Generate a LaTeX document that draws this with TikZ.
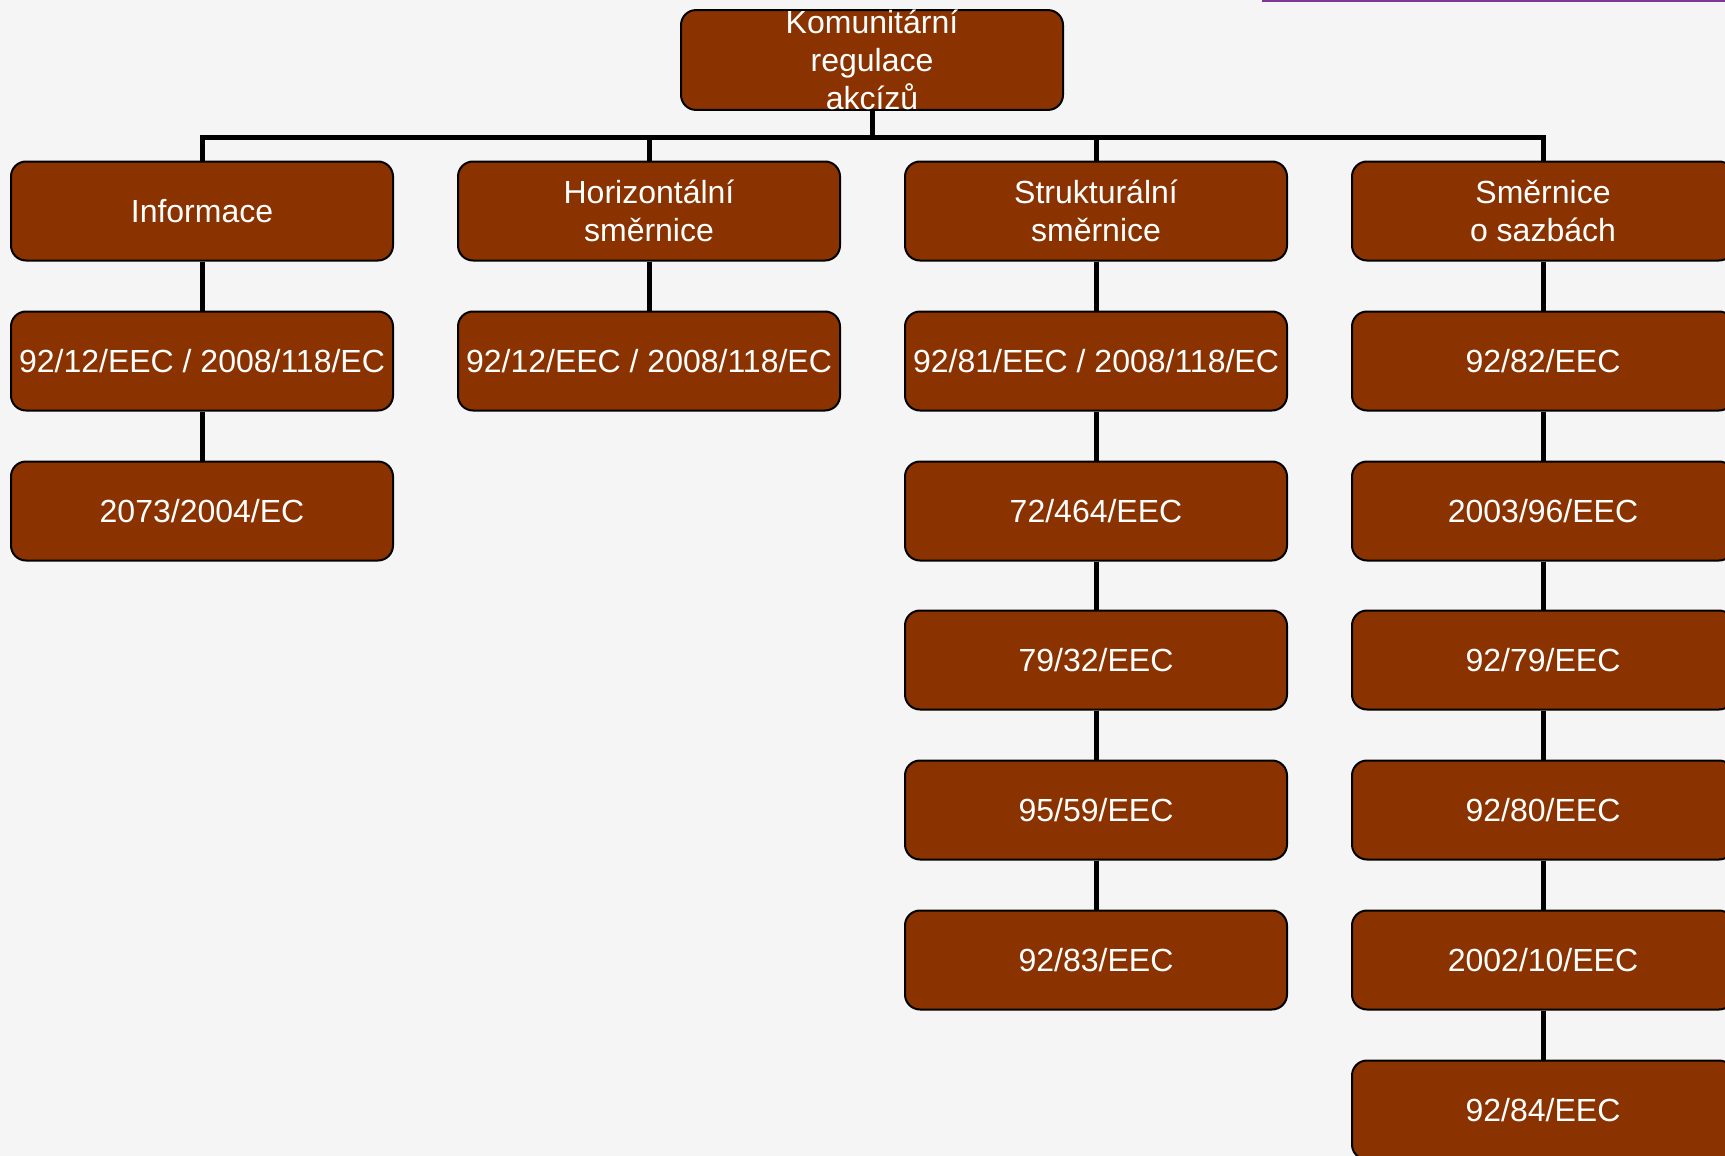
\documentclass[tikz,border=0pt]{standalone}
\usepackage{fontspec}
\setmainfont{Liberation Sans}
\definecolor{boxfill}{RGB}{139,51,0}
\definecolor{bg}{RGB}{245,245,245}
\definecolor{topline}{RGB}{125,55,150}
\begin{document}
\begin{tikzpicture}[x=1pt,y=-1pt,
  box/.style={draw=black,line width=2pt,fill=boxfill,rounded corners=15pt,
    minimum width=382pt,minimum height=99pt,inner sep=0pt,text=white,
    align=center,font=\fontsize{32}{38}\selectfont},
  conn/.style={draw=black,line width=5pt,line join=miter}]
\fill[bg] (0,0) rectangle (1725,1156);
\useasboundingbox (0,0) rectangle (1725,1156);
\clip (0,0) rectangle (1725,1156);
\draw[topline,line width=3pt] (1262,1) -- (1725,1);
\node[box] (top) at (872,60) {Komunitární\\regulace\\akcízů};
% column heads
\node[box] (a0) at (202,211) {Informace};
\node[box] (b0) at (649,211) {Horizontální\\směrnice};
\node[box] (c0) at (1096,211) {Strukturální\\směrnice};
\node[box] (d0) at (1543,211) {Směrnice\\o sazbách};
% column 1
\node[box] (a1) at (202,361) {92/12/EEC / 2008/118/EC};
\node[box] (a2) at (202,511) {2073/2004/EC};
% column 2
\node[box] (b1) at (649,361) {92/12/EEC / 2008/118/EC};
% column 3
\node[box] (c1) at (1096,361) {92/81/EEC / 2008/118/EC};
\node[box] (c2) at (1096,511) {72/464/EEC};
\node[box] (c3) at (1096,660) {79/32/EEC};
\node[box] (c4) at (1096,810) {95/59/EEC};
\node[box] (c5) at (1096,960) {92/83/EEC};
% column 4
\node[box] (d1) at (1543,361) {92/82/EEC};
\node[box] (d2) at (1543,511) {2003/96/EEC};
\node[box] (d3) at (1543,660) {92/79/EEC};
\node[box] (d4) at (1543,810) {92/80/EEC};
\node[box] (d5) at (1543,960) {2002/10/EEC};
\node[box] (d6) at (1543,1110) {92/84/EEC};
% bus
\coordinate (bus) at (0,137);
\draw[conn] (top.south) -- (top.south |- bus);
\draw[conn] (a0.north) -- (a0.north |- bus) -- (d0.north |- bus) -- (d0.north);
\draw[conn] (b0.north) -- (b0.north |- bus);
\draw[conn] (c0.north) -- (c0.north |- bus);
% chains
\draw[conn] (a0) -- (a1);
\draw[conn] (a1) -- (a2);
\draw[conn] (b0) -- (b1);
\draw[conn] (c0) -- (c1);
\draw[conn] (c1) -- (c2);
\draw[conn] (c2) -- (c3);
\draw[conn] (c3) -- (c4);
\draw[conn] (c4) -- (c5);
\draw[conn] (d0) -- (d1);
\draw[conn] (d1) -- (d2);
\draw[conn] (d2) -- (d3);
\draw[conn] (d3) -- (d4);
\draw[conn] (d4) -- (d5);
\draw[conn] (d5) -- (d6);
\end{tikzpicture}
\end{document}
